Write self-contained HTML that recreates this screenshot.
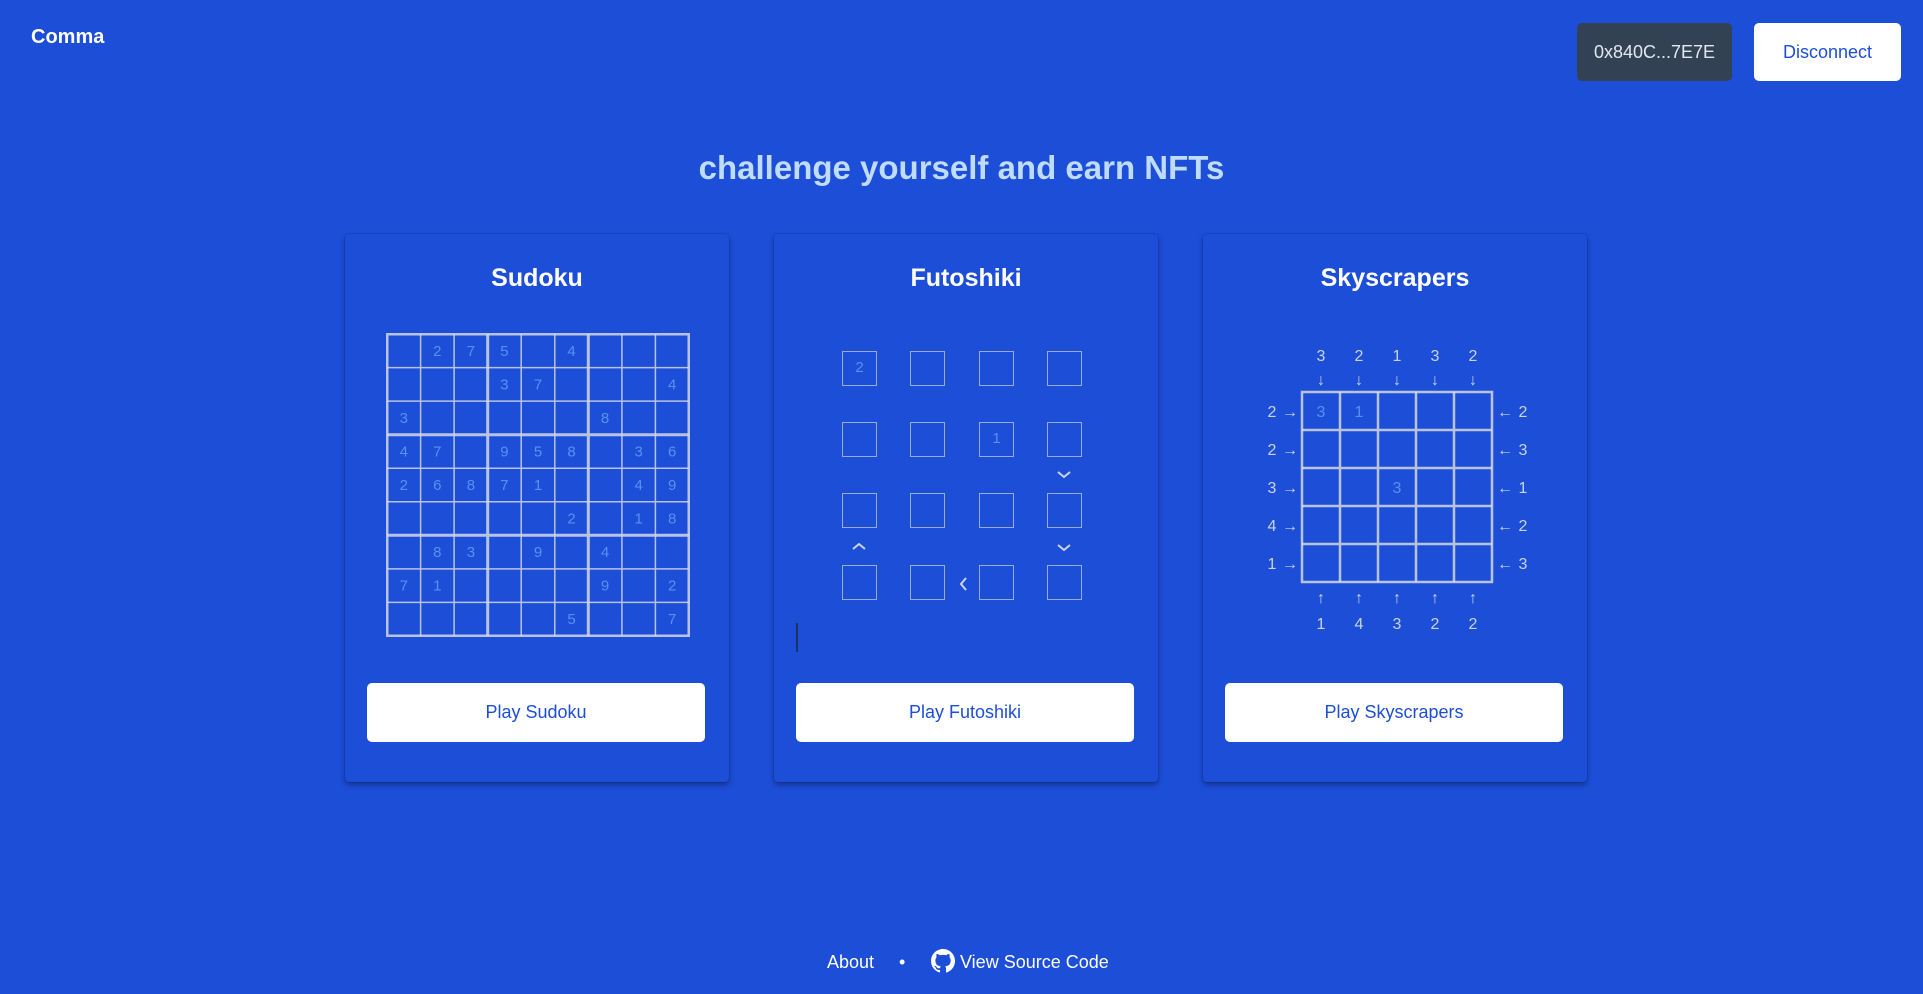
<!DOCTYPE html>
<html><head><meta charset="utf-8"><style>
*{margin:0;padding:0;box-sizing:border-box}
body{width:1923px;height:994px;background:#1d4ed8;font-family:"Liberation Sans",sans-serif;position:relative;overflow:hidden;color:#fff}
.a{position:absolute}
.card{position:absolute;top:234px;width:384px;height:548px;background:#1d4ed8;border-radius:4px;box-shadow:0 3px 6px rgba(0,0,0,.35),0 0 0 1px rgba(0,0,0,.08)}
.card h2{position:absolute;top:30px;width:100%;text-align:center;font-size:25px;font-weight:bold}
.btn{position:absolute;left:22px;top:449px;width:338px;height:59px;background:#fff;border-radius:5px;color:#1d4ed8;font-size:18px;text-align:center;line-height:59px}
.fb{position:absolute;width:35px;height:35px;border:1.5px solid rgba(203,213,225,.7)}
svg text{font-family:"Liberation Sans",sans-serif}
</style></head><body>
<div class="a" style="left:31px;top:26px;font-size:20px;font-weight:bold">Comma</div>
<div class="a" style="left:1577px;top:23px;width:155px;height:58px;background:#334155;border-radius:5px;color:#e2e8f0;font-size:18px;text-align:center;line-height:58px">0x840C...7E7E</div>
<div class="a" style="left:1754px;top:23px;width:147px;height:58px;background:#fff;border-radius:5px;color:#1d4ed8;font-size:18px;text-align:center;line-height:58px">Disconnect</div>
<div class="a" style="left:0;top:149px;width:1923px;text-align:center;font-size:33px;font-weight:bold;color:#bfdbfe">challenge yourself and earn NFTs</div>

<div class="card" style="left:345px"><h2>Sudoku</h2><div class="btn">Play Sudoku</div></div>
<div class="card" style="left:774px"><h2>Futoshiki</h2><div class="btn">Play Futoshiki</div></div>
<div class="card" style="left:1203px"><h2>Skyscrapers</h2><div class="btn">Play Skyscrapers</div></div>

<svg class="a" style="left:386px;top:333px" width="304" height="304" viewBox="-1 -1 304 304">
<g stroke="#d4d8e4" stroke-opacity=".85" fill="none">
<rect x="0" y="0" width="302" height="302" stroke-width="3"/>
<path stroke-width="1.5" d="M33.6 0V302M67.1 0V302M134.2 0V302M167.8 0V302M234.9 0V302M268.4 0V302M0 33.6H302M0 67.1H302M0 134.2H302M0 167.8H302M0 234.9H302M0 268.4H302"/>
<path stroke-width="3" d="M100.7 0V302M201.3 0V302M0 100.7H302M0 201.3H302"/>
</g>
<g fill="#5b8ff0" font-size="15" text-anchor="middle">
<text x="50.3" y="22">2</text><text x="83.9" y="22">7</text><text x="117.4" y="22">5</text><text x="184.6" y="22">4</text>
<text x="117.4" y="55.5">3</text><text x="151" y="55.5">7</text><text x="285.2" y="55.5">4</text>
<text x="16.8" y="89">3</text><text x="218.1" y="89">8</text>
<text x="16.8" y="122.5">4</text><text x="50.3" y="122.5">7</text><text x="117.4" y="122.5">9</text><text x="151" y="122.5">5</text><text x="184.6" y="122.5">8</text><text x="251.7" y="122.5">3</text><text x="285.2" y="122.5">6</text>
<text x="16.8" y="156">2</text><text x="50.3" y="156">6</text><text x="83.9" y="156">8</text><text x="117.4" y="156">7</text><text x="151" y="156">1</text><text x="251.7" y="156">4</text><text x="285.2" y="156">9</text>
<text x="184.6" y="189.6">2</text><text x="251.7" y="189.6">1</text><text x="285.2" y="189.6">8</text>
<text x="50.3" y="223">8</text><text x="83.9" y="223">3</text><text x="151" y="223">9</text><text x="218.1" y="223">4</text>
<text x="16.8" y="256.7">7</text><text x="50.3" y="256.7">1</text><text x="218.1" y="256.7">9</text><text x="285.2" y="256.7">2</text>
<text x="184.6" y="290.2">5</text><text x="285.2" y="290.2">7</text>
</g></svg>

<div class="fb" style="left:842px;top:351px;color:#5b8ff0;font-size:15px;text-align:center;line-height:32px">2</div>
<div class="fb" style="left:910px;top:351px"></div>
<div class="fb" style="left:979px;top:351px"></div>
<div class="fb" style="left:1047px;top:351px"></div>
<div class="fb" style="left:842px;top:422px"></div>
<div class="fb" style="left:910px;top:422px"></div>
<div class="fb" style="left:979px;top:422px;color:#5b8ff0;font-size:15px;text-align:center;line-height:32px">1</div>
<div class="fb" style="left:1047px;top:422px"></div>
<div class="fb" style="left:842px;top:493px"></div>
<div class="fb" style="left:910px;top:493px"></div>
<div class="fb" style="left:979px;top:493px"></div>
<div class="fb" style="left:1047px;top:493px"></div>
<div class="fb" style="left:842px;top:565px"></div>
<div class="fb" style="left:910px;top:565px"></div>
<div class="fb" style="left:979px;top:565px"></div>
<div class="fb" style="left:1047px;top:565px"></div>
<svg class="a" style="left:0;top:0" width="1923" height="994">
<g stroke="#cbd5e1" stroke-width="2" fill="none">
<path d="M1058 472l6 5 6-5"/>
<path d="M1058 545l6 5 6-5"/>
<path d="M853 549l6-5 6 5"/>
<path d="M966 578l-5 6 5 6"/>
</g>
<line x1="797" y1="623" x2="797" y2="652" stroke="#1e293b" stroke-width="1.5"/>
</svg>

<svg class="a" style="left:1250px;top:330px" width="300" height="310">
<g stroke="#d4d8e4" stroke-opacity=".85" fill="none" stroke-width="2.5">
<rect x="52" y="62" width="190" height="190"/>
<path d="M90 62V252M128 62V252M166 62V252M204 62V252M52 100H242M52 138H242M52 176H242M52 214H242"/>
</g>
<g fill="#cbd5e1" font-size="16" text-anchor="middle">
<text x="71" y="31">3</text><text x="109" y="31">2</text><text x="147" y="31">1</text><text x="185" y="31">3</text><text x="223" y="31">2</text>
<text x="71" y="55">↓</text><text x="109" y="55">↓</text><text x="147" y="55">↓</text><text x="185" y="55">↓</text><text x="223" y="55">↓</text>
<text x="71" y="273">↑</text><text x="109" y="273">↑</text><text x="147" y="273">↑</text><text x="185" y="273">↑</text><text x="223" y="273">↑</text>
<text x="71" y="299">1</text><text x="109" y="299">4</text><text x="147" y="299">3</text><text x="185" y="299">2</text><text x="223" y="299">2</text>
<text x="22" y="87">2</text><text x="22" y="125">2</text><text x="22" y="163">3</text><text x="22" y="201">4</text><text x="22" y="239">1</text>
<text x="40" y="87">→</text><text x="40" y="125">→</text><text x="40" y="163">→</text><text x="40" y="201">→</text><text x="40" y="239">→</text>
<text x="255" y="87">←</text><text x="255" y="125">←</text><text x="255" y="163">←</text><text x="255" y="201">←</text><text x="255" y="239">←</text>
<text x="273" y="87">2</text><text x="273" y="125">3</text><text x="273" y="163">1</text><text x="273" y="201">2</text><text x="273" y="239">3</text>
</g>
<g fill="#5b8ff0" font-size="16" text-anchor="middle">
<text x="71" y="87">3</text><text x="109" y="87">1</text><text x="147" y="163">3</text>
</g>
</svg>

<div class="a" style="left:827px;top:952px;font-size:18px">About</div>
<div class="a" style="left:899px;top:952px;font-size:18px">•</div>
<svg class="a" style="left:931px;top:949px" width="24" height="24" viewBox="0 0 16 16"><path fill="#fff" d="M8 0C3.58 0 0 3.580 0 8c0 3.54 2.290 6.530 5.470 7.590.4.07.55-.17.55-.38v-1.330c-2.230.48-2.700-1.070-2.700-1.070-.36-.92-.89-1.170-.89-1.170-.73-.5.06-.49.06-.49.8.06 1.230.83 1.230.83.72 1.220 1.870.87 2.330.66.07-.52.28-.87.5-1.070-1.780-.2-3.640-.89-3.640-3.950 0-.87.31-1.590.82-2.150-.08-.2-.36-1.020.08-2.120 0 0 .67-.21 2.200.82a7.600 7.600 0 014 0c1.530-1.040 2.200-.82 2.200-.82.44 1.100.16 1.920.08 2.120.51.56.82 1.270.82 2.150 0 3.070-1.870 3.750-3.650 3.950.29.25.54.73.54 1.480v2.200c0 .21.15.46.55.38A8.010 8.010 0 0016 8c0-4.420-3.580-8-8-8z"/></svg>
<div class="a" style="left:960px;top:952px;font-size:18px">View Source Code</div>
</body></html>
